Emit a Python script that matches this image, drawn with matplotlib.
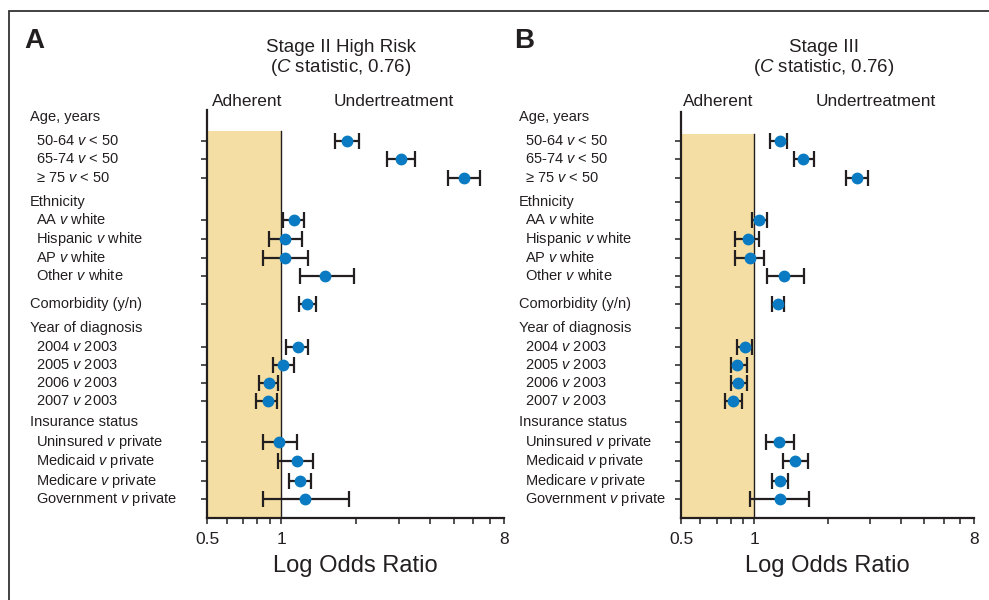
import numpy as np
import matplotlib.pyplot as plt
from matplotlib import transforms
from matplotlib.patches import Rectangle
from matplotlib.ticker import FixedLocator, NullFormatter

plt.rcParams['font.family'] = ['Liberation Sans', 'DejaVu Sans']
plt.rcParams['mathtext.fontset'] = 'custom'
plt.rcParams['mathtext.rm'] = 'Liberation Sans'
plt.rcParams['mathtext.it'] = 'Liberation Sans:italic'

INK = '#231f20'
BLUE = '#0a7bc2'
TAN = '#f4dea3'

# rows of the table (headers and items)
labels = ["Age, years", "50-64 $v$ < 50", "65-74 $v$ < 50", "\u2265 75 $v$ < 50",
          "Ethnicity", "AA $v$ white", "Hispanic $v$ white", "AP $v$ white", "Other $v$ white",
          "Comorbidity (y/n)",
          "Year of diagnosis", "2004 $v$ 2003", "2005 $v$ 2003", "2006 $v$ 2003", "2007 $v$ 2003",
          "Insurance status", "Uninsured $v$ private", "Medicaid $v$ private",
          "Medicare $v$ private", "Government $v$ private"]
is_header = [True, False, False, False,
             True, False, False, False, False,
             True,
             True, False, False, False, False,
             True, False, False, False, False]
row_y = [0, 1.28, 2.25, 3.26, 4.55, 5.5, 6.5, 7.54, 8.5, 10.0,
         11.3, 12.3, 13.26, 14.2, 15.2, 16.3, 17.4, 18.4, 19.45, 20.45]
# items that carry an estimate (comorbidity is both header and item)
item_idx = [1, 2, 3, 5, 6, 7, 8, 9, 11, 12, 13, 14, 16, 17, 18, 19]

# Stage II high risk
or_a = [1.84, 3.07, 5.50, 1.13, 1.04, 1.04, 1.51, 1.27, 1.17, 1.02, 0.89, 0.88, 0.98, 1.16, 1.19, 1.25]
lo_a = [1.65, 2.68, 4.75, 1.02, 0.89, 0.84, 1.19, 1.18, 1.05, 0.93, 0.81, 0.79, 0.84, 0.97, 1.08, 0.84]
hi_a = [2.06, 3.48, 6.37, 1.24, 1.21, 1.28, 1.98, 1.38, 1.28, 1.13, 0.97, 0.96, 1.16, 1.34, 1.32, 1.89]

# Stage III
or_b = [1.27, 1.59, 2.64, 1.05, 0.94, 0.96, 1.33, 1.25, 0.92, 0.85, 0.86, 0.82, 1.26, 1.47, 1.28, 1.27]
lo_b = [1.16, 1.45, 2.38, 0.98, 0.83, 0.83, 1.13, 1.18, 0.85, 0.80, 0.80, 0.76, 1.12, 1.31, 1.18, 0.96]
hi_b = [1.36, 1.76, 2.93, 1.13, 1.05, 1.10, 1.60, 1.33, 0.98, 0.93, 0.93, 0.89, 1.45, 1.66, 1.38, 1.68]

W, H = 989, 600
fig = plt.figure(figsize=(W / 100, H / 100), dpi=100)


def fx(px):
    return px / W


def fy(py):
    return 1 - py / H


def panel(left, right, top, shade_top, est, lo, hi, extra_ticks, letter, letter_x,
          title, title_x, lab_x, adh_x, und_x):
    bottom = 518
    ax = fig.add_axes([fx(left), fy(bottom), fx(right - left), (bottom - top) / H])
    ax.set_xscale('log')
    ax.set_xlim(0.5, 8)
    # pixel -> row unit: y = (py - 117) / 18.7
    ylo = (bottom - 117) / 18.7
    yhi = (top - 117) / 18.7
    ax.set_ylim(ylo, yhi)
    ys_top = (shade_top - 117) / 18.7

    ax.fill_betweenx([ys_top, ylo], 0.5, 1, color=TAN, lw=0, zorder=0)
    ax.plot([1, 1], [ys_top, ylo], color=INK, lw=1.0, zorder=1)

    y_items = [row_y[i] for i in item_idx]
    est = np.array(est)
    err = np.array([est - np.array(lo), np.array(hi) - est])
    ax.errorbar(est, y_items, xerr=err, fmt='o', color=BLUE, ms=7.5,
                ecolor=INK, elinewidth=1.6, capsize=5.5, capthick=1.6, zorder=3)

    for s in ['top', 'right']:
        ax.spines[s].set_visible(False)
    for s in ['left', 'bottom']:
        ax.spines[s].set_linewidth(1.6)
        ax.spines[s].set_color(INK)

    ax.xaxis.set_major_locator(FixedLocator([0.5, 1, 8]))
    ax.xaxis.set_minor_locator(FixedLocator([0.6, 0.7, 0.8, 0.9, 2, 3, 4, 5, 6, 7]))
    ax.xaxis.set_minor_formatter(NullFormatter())
    ax.set_xticklabels(['0.5', '1', '8'])
    ax.tick_params(axis='x', which='both', length=4, width=1.1, color=INK,
                   labelsize=12.5, labelcolor=INK, pad=6)
    ax.set_yticks(y_items + extra_ticks)
    ax.set_yticklabels([])
    ax.tick_params(axis='y', length=4, width=1.1, color=INK)
    ax.set_xlabel('Log Odds Ratio', fontsize=17, color=INK, labelpad=6)

    tr = transforms.blended_transform_factory(fig.transFigure, ax.transData)
    for lab, y, hd in zip(labels, row_y, is_header):
        x = fx(lab_x) if hd else fx(lab_x + 6)
        ax.text(x, y, lab, transform=tr, ha='left', va='center',
                fontsize=10.5, color=INK, clip_on=False)

    fig.text(fx(letter_x), fy(41), letter, fontsize=20, fontweight='bold',
             color=INK, ha='left', va='center')
    fig.text(fx(title_x), fy(47), title, fontsize=13.5, color=INK, ha='center', va='center')
    fig.text(fx(title_x), fy(68), '($\\it{C}$ statistic, 0.76)', fontsize=13.5,
             color=INK, ha='center', va='center')
    fig.text(fx(adh_x), fy(101), 'Adherent', fontsize=12.4, color=INK, ha='center', va='center')
    fig.text(fx(und_x), fy(101), 'Undertreatment', fontsize=12.4, color=INK,
             ha='center', va='center')
    return ax


panel(207, 504, 110, 131, or_a, lo_a, hi_a, [], 'A', 24,
      'Stage II High Risk', 341, 30, 247, 394)
panel(681, 974, 112, 134, or_b, lo_b, hi_b, [4.55, 9.1, 11.3, 16.3], 'B', 514,
      'Stage III', 824, 519, 718, 876)

# outer frame
fig.add_artist(Rectangle((fx(9), -0.1), 2, fy(11) + 0.1, transform=fig.transFigure,
                         fill=False, lw=1.3, edgecolor='#333333'))

fig.savefig('out.png', dpi=100)
